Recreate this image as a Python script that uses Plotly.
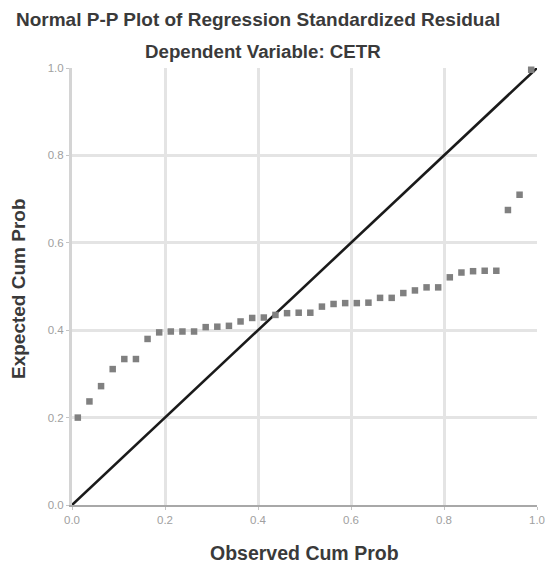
import plotly.graph_objects as go

# Observed cumulative probability
observed_cum_prob = [0.0125, 0.0375, 0.0625, 0.0875, 0.1125, 0.1375, 0.1625, 0.1875,
                     0.2125, 0.2375, 0.2625, 0.2875, 0.3125, 0.3375, 0.3625, 0.3875,
                     0.4125, 0.4375, 0.4625, 0.4875, 0.5125, 0.5375, 0.5625, 0.5875,
                     0.6125, 0.6375, 0.6625, 0.6875, 0.7125, 0.7375, 0.7625, 0.7875,
                     0.8125, 0.8375, 0.8625, 0.8875, 0.9125, 0.9375, 0.9625, 0.9875]
# Expected cumulative probability
expected_cum_prob = [0.200, 0.237, 0.272, 0.311, 0.334, 0.334, 0.380, 0.395,
                     0.397, 0.397, 0.397, 0.407, 0.408, 0.410, 0.420, 0.428,
                     0.429, 0.435, 0.439, 0.440, 0.440, 0.454, 0.460, 0.462,
                     0.462, 0.463, 0.474, 0.474, 0.485, 0.491, 0.498, 0.498,
                     0.521, 0.532, 0.535, 0.536, 0.536, 0.675, 0.710, 0.996]
# Reference diagonal
ref_x = [0.0, 1.0]
ref_y = [0.0, 1.0]
tick_vals = [0.0, 0.2, 0.4, 0.6, 0.8, 1.0]
tick_text = ["0.0", "0.2", "0.4", "0.6", "0.8", "1.0"]

fig = go.Figure()
fig.add_trace(go.Scatter(x=ref_x, y=ref_y, mode="lines",
                         line=dict(color="#1a1a1a", width=2.6),
                         hoverinfo="skip", showlegend=False, cliponaxis=False))
fig.add_trace(go.Scatter(x=observed_cum_prob, y=expected_cum_prob, mode="markers",
                         marker=dict(symbol="square", size=6.5, color="#808080",
                                     line=dict(width=0)),
                         showlegend=False, cliponaxis=False))

axis_common = dict(range=[0, 1], tickvals=tick_vals, ticktext=tick_text,
                   showgrid=True, gridcolor="#e4e4e4", gridwidth=2.5,
                   zeroline=False, automargin=False,
                   tickfont=dict(family="Liberation Sans", size=11.5, color="#a0a0a0"),
                   ticks="outside", ticklen=3, tickcolor="#c4c4c4", fixedrange=True)

fig.update_xaxes(**axis_common, showline=True, linecolor="#a8a8a8", linewidth=2,
                 mirror=False)
fig.update_yaxes(**axis_common, showline=True, linecolor="#d4d4d4", linewidth=3,
                 mirror=False)

fig.update_layout(
    width=545, height=567,
    margin=dict(l=72, r=8, t=68, b=62),
    paper_bgcolor="white", plot_bgcolor="white",
    font=dict(family="Liberation Sans", color="#333333"),
    showlegend=False,
)
# Titles
fig.add_annotation(text="<b>Normal P-P Plot of Regression Standardized Residual</b>",
                   xref="paper", yref="paper", x=(258 - 72) / 465, y=1 + (68 - 19) / 437,
                   showarrow=False, font=dict(size=19, color="#3a3a3a"),
                   xanchor="center", yanchor="middle")
fig.add_annotation(text="<b>Dependent Variable: CETR</b>",
                   xref="paper", yref="paper", x=(263 - 72) / 465, y=1 + (68 - 52) / 437,
                   showarrow=False, font=dict(size=18.7, color="#3a3a3a"),
                   xanchor="center", yanchor="middle")
fig.add_annotation(text="<b>Observed Cum Prob</b>",
                   xref="paper", yref="paper", x=(304 - 72) / 465, y=-(553 - 505) / 437,
                   showarrow=False, font=dict(size=19.5, color="#3a3a3a"),
                   xanchor="center", yanchor="middle")
fig.add_annotation(text="<b>Expected Cum Prob</b>",
                   xref="paper", yref="paper", x=-(72 - 18) / 465, y=(505 - 289) / 437,
                   showarrow=False, font=dict(size=19, color="#3a3a3a"), textangle=-90,
                   xanchor="center", yanchor="middle")

fig.write_html("out.html", config={"displayModeBar": False},
               post_script="document.body.style.margin='0';")
